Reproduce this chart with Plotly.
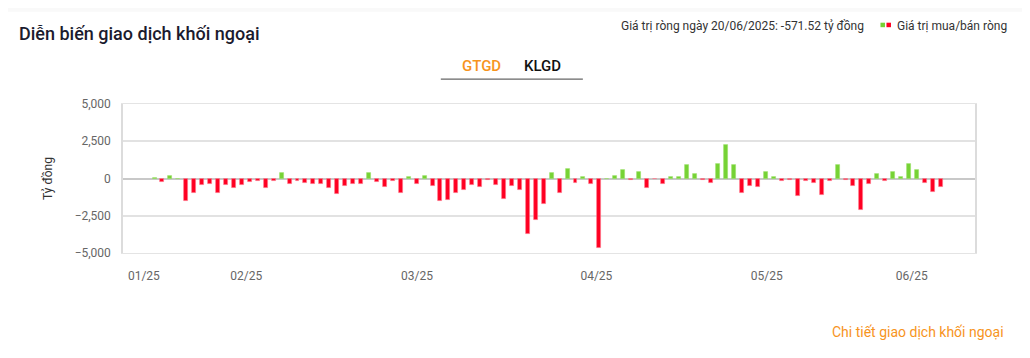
import plotly.graph_objects as go

# ---------------- data ----------------
net_values = [
    20, -250, 160, 0, -1490, -980, -420, -360, -1000, -450,
    -620, -420, -250, -200, -670, -160, 400, -360, -200, -290,
    -400, -360, -670, -1070, -510, -360, -380, 400, -220, -540,
    -200, -940, 90, -380, 160, -490, -1520, -1470, -1000, -760,
    -450, -560, -90, -450, -1360, -470, -760, -3700, -2770, -1700,
    360, -1000, 670, -290, 90, -360, -4640, 0, 160, 580,
    -110, 470, -620, -20, -340, 90, 90, 890, 270, -110,
    -290, 980, 2240, 890, -960, -470, -560, 450, 90, -200,
    -90, -1200, -200, -290, -1120, -160, 915, -90, -490, -2100,
    -340, 290, -200, 420, 90, 960, 580, -310, -890, -571.52,
]
month_tick_labels = ["01/25", "02/25", "03/25", "04/25", "05/25", "06/25"]
month_tick_pos = [-1.34, 11.55, 33.05, 55.63, 77.08, 95.33]
y_ticks = [-5000, -2500, 0, 2500, 5000]

GREEN = "#76D235"
RED = "#FF0022"
ORANGE = "#F7941D"

colors = [GREEN if v >= 0 else RED for v in net_values]
line_colors = ["rgba(150,225,100,0.7)" if v >= 0 else "rgba(255,120,140,0.7)" for v in net_values]

fig = go.Figure()
fig.add_trace(go.Bar(
    y=net_values,
    marker=dict(color=colors, line=dict(color=line_colors, width=0.8)),
    width=0.5,
    hovertemplate="%{y:,.2f} tỷ đồng<extra></extra>",
))

# page-pixel geometry (the page body has an 8px default margin)
OFF = 8
PAGE_W, PAGE_H = 1030, 358
L, R, T, B = 123.3, 975.0, 104.3, 253.3
W, H = PAGE_W - OFF, PAGE_H - OFF


def px(x):
    return (x - L) / (R - L)


def py(y):
    return (B - y) / (B - T)


fig.update_layout(
    width=W, height=H,
    margin=dict(l=L - OFF, r=PAGE_W - R, t=T - OFF, b=PAGE_H - B, pad=0),
    paper_bgcolor="white",
    plot_bgcolor="white",
    showlegend=False,
    bargap=0,
    font=dict(family="Roboto, Arial, sans-serif", size=12, color="#333"),
    xaxis=dict(
        range=[-3.97, 103.3],
        tickmode="array",
        tickvals=month_tick_pos,
        ticktext=month_tick_labels,
        showgrid=False,
        zeroline=False,
        showline=True, linecolor="#e4e4e4", linewidth=1, mirror=True,
        ticks="", ticklabelstandoff=12,
        tickfont=dict(size=12, color="#666"),
        fixedrange=True,
    ),
    yaxis=dict(
        range=[-5000, 5000],
        tickmode="array",
        tickvals=y_ticks,
        tickformat=",d",
        showgrid=True, gridcolor="#e2e2e2", gridwidth=1.5,
        zeroline=True, zerolinecolor="#c8c8c8", zerolinewidth=1.5,
        showline=True, linecolor="#dcdcdc", linewidth=1.5, mirror=True,
        ticks="", ticklabelstandoff=8,
        tickfont=dict(size=12, color="#666"),
        title=dict(text="Tỷ đồng", font=dict(size=12, color="#333"), standoff=19),
        fixedrange=True,
    ),
    shapes=[
        # page background right of the card
        dict(type="rect", xref="paper", yref="paper", x0=px(1023), x1=px(1032),
             y0=py(360), y1=py(-2), fillcolor="#f3f3f3", line=dict(width=0), layer="below"),
        dict(type="rect", xref="paper", yref="paper", x0=px(-2), x1=px(1023),
             y0=py(12), y1=py(6), fillcolor="#f9f9f9", line=dict(width=0), layer="below"),
        # tab underline
        dict(type="line", xref="paper", yref="paper", x0=px(441), x1=px(583),
             y0=py(79.5), y1=py(79.5), line=dict(color="#666", width=1.2)),
        # legend swatches
        dict(type="rect", xref="paper", yref="paper", x0=px(880.5), x1=px(885),
             y0=py(27.5), y1=py(23), fillcolor=GREEN, line=dict(width=0)),
        dict(type="rect", xref="paper", yref="paper", x0=px(886.5), x1=px(891),
             y0=py(27.5), y1=py(23), fillcolor=RED, line=dict(width=0)),
    ],
    annotations=[
        dict(text="Diễn biến giao dịch khối ngoại", xref="paper", yref="paper",
             x=px(17), y=py(33.5), xanchor="left", yanchor="middle", showarrow=False,
             font=dict(size=18, color="#1b1b2e", weight=500)),
        dict(text="Giá trị ròng ngày 20/06/2025: -571.52 tỷ đồng", xref="paper", yref="paper",
             x=px(866), y=py(26), xanchor="right", yanchor="middle", showarrow=False,
             font=dict(size=12, color="#333")),
        dict(text="Giá trị mua/bán ròng", xref="paper", yref="paper",
             x=px(895), y=py(26), xanchor="left", yanchor="middle", showarrow=False,
             font=dict(size=12, color="#333")),
        dict(text="GTGD", xref="paper", yref="paper",
             x=px(482), y=py(66), xanchor="center", yanchor="middle", showarrow=False,
             font=dict(size=15, color=ORANGE, weight=500)),
        dict(text="KLGD", xref="paper", yref="paper",
             x=px(542.5), y=py(66), xanchor="center", yanchor="middle", showarrow=False,
             font=dict(size=15, color="#111", weight=500)),
        dict(text="Chi tiết giao dịch khối ngoại", xref="paper", yref="paper",
             x=px(1005.5), y=py(332), xanchor="right", yanchor="middle", showarrow=False,
             font=dict(size=14, color=ORANGE)),
    ],
)

fig.write_html("out.html")
